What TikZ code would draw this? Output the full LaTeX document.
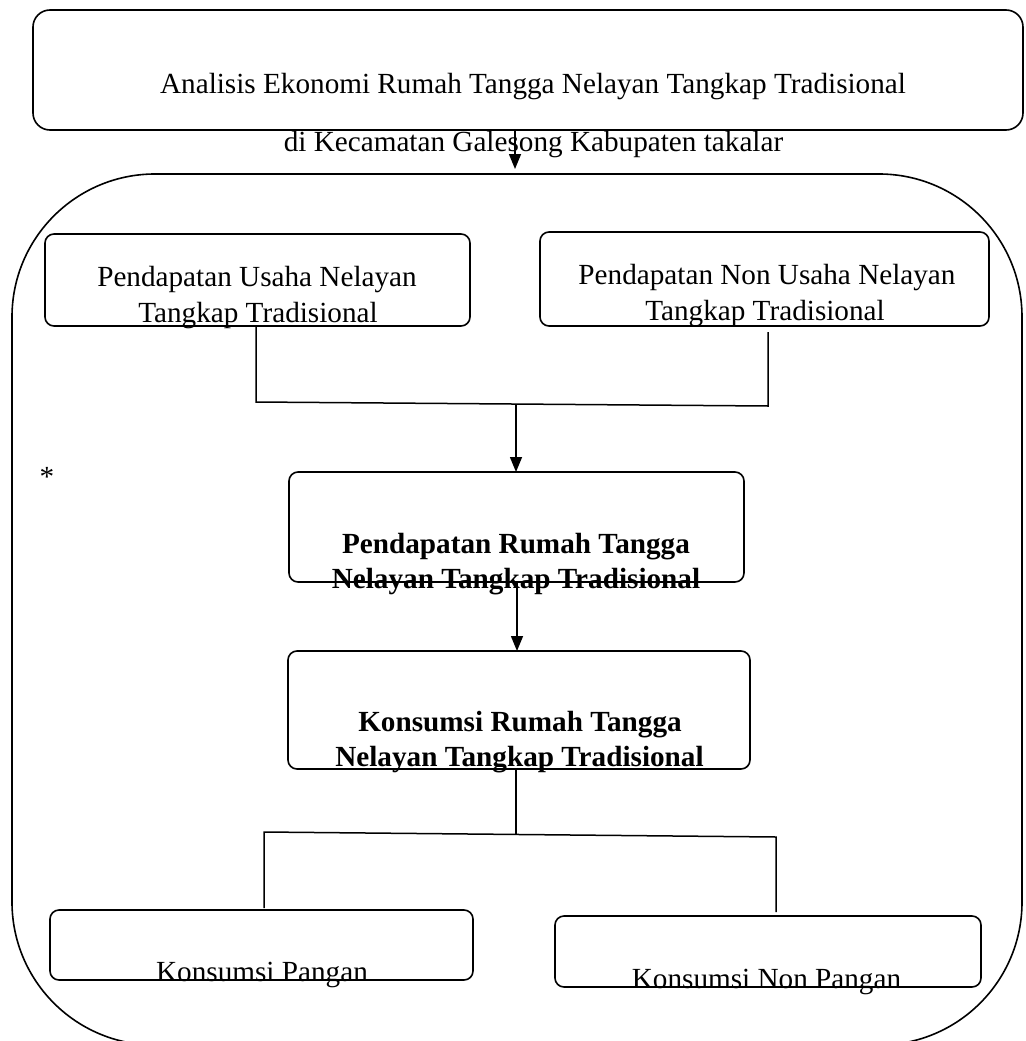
\documentclass[tikz,border=0pt]{standalone}
\usepackage{fontspec}
\setmainfont{Liberation Serif}
\usetikzlibrary{arrows.meta}
\tikzset{
  box/.style={draw, line width=1.6pt, rounded corners=9pt, inner sep=0pt, minimum width=#1},
  txt/.style={anchor=base, inner sep=0pt, font=\fontsize{29.2}{36}\selectfont},
  btxt/.style={anchor=base, inner sep=0pt, font=\fontsize{29.2}{36}\selectfont\bfseries},
  conn/.style={line width=1.5pt},
  arr/.style={line width=1.5pt, -{Triangle[length=15pt,width=12pt]}}
}
\begin{document}
\begin{tikzpicture}[x=1pt,y=-1pt]
\useasboundingbox (0,0) rectangle (1025,1041);
\clip (0,0) rectangle (1025,1041);
% boxes
\node[box=990pt, rounded corners=17pt, minimum height=120pt] (top) at (528,70) {};
\node[box=1010pt, rounded corners=143pt, minimum height=871pt] (outer) at (517,609.5) {};
\node[box=425pt, minimum height=92pt] (b1) at (257.5,280) {};
\node[box=449pt, minimum height=94pt] (b2) at (764.5,279) {};
\node[box=455pt, minimum height=110pt] (b3) at (516.5,527) {};
\node[box=462pt, minimum height=118pt] (b4) at (519,710) {};
\node[box=423pt, minimum height=70pt] (b5) at (261.5,945) {};
\node[box=426pt, minimum height=71pt] (b6) at (768,951.5) {};
% texts
\node[txt] (t0a) at (533,93) {Analisis Ekonomi Rumah Tangga Nelayan Tangkap Tradisional};
\node[txt] (t0b) at (533.5,151) {di Kecamatan Galesong Kabupaten takalar};
\node[txt] (t1a) at (257,286) {Pendapatan Usaha Nelayan};
\node[txt] (t1b) at (258,322) {Tangkap Tradisional};
\node[txt] (t2a) at (767,284) {Pendapatan Non Usaha Nelayan};
\node[txt] (t2b) at (765,320) {Tangkap Tradisional};
\node[btxt] (t3a) at (516,553) {Pendapatan Rumah Tangga};
\node[btxt] (t3b) at (516,588) {Nelayan Tangkap Tradisional};
\node[btxt] (t4a) at (520,731) {Konsumsi Rumah Tangga};
\node[btxt] (t4b) at (519.5,766) {Nelayan Tangkap Tradisional};
\node[txt] (t5) at (262,981) {Konsumsi Pangan};
\node[txt] (t6) at (766.5,988) {Konsumsi Non Pangan};
\node[txt] (star) at (47,486) {*};
% connector coordinates
\coordinate (a0) at (515,130);
\coordinate (a1) at (515,169);
\coordinate (c1) at (256,326);
\coordinate (c2) at (256,402);
\coordinate (c3) at (768,406);
\coordinate (c4) at (768,332);
\coordinate (m1) at (516,404);
\coordinate (m2) at (516,472);
\coordinate (m3) at (517,582);
\coordinate (m4) at (517,651);
\coordinate (d1) at (516,769);
\coordinate (d2) at (516,835);
\coordinate (dl) at (264,832);
\coordinate (dr) at (776,837);
\coordinate (dl2) at (264,908);
\coordinate (dr2) at (776,912);
% connectors
\draw[arr] (a0) -- (a1);
\draw[conn] (c1) -- (c2) -- (c3) -- (c4);
\draw[arr] (m1) -- (m2);
\draw[arr] (m3) -- (m4);
\draw[conn] (d1) -- (d2);
\draw[conn] (dl2) -- (dl) -- (dr) -- (dr2);
\end{tikzpicture}
\end{document}
